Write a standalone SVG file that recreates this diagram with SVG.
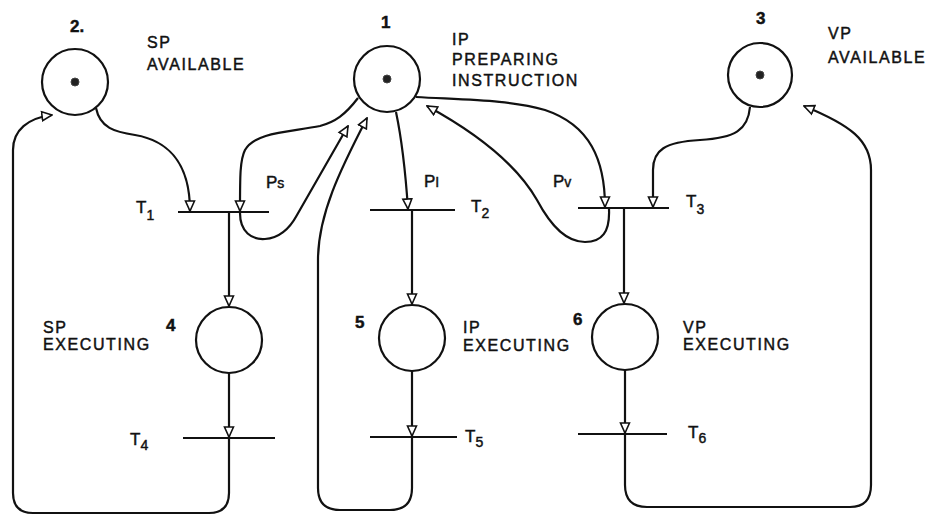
<svg xmlns="http://www.w3.org/2000/svg" width="949" height="515" viewBox="0 0 949 515">
<style>
.pl{fill:none;stroke:#111;stroke-width:2.2}
.tok{fill:#222;stroke:#444;stroke-width:1}
.bar{stroke:#111;stroke-width:2.2}
.arc{fill:none;stroke:#111;stroke-width:2.2;marker-end:url(#ah)}
text{font-family:"Liberation Sans","DejaVu Sans",sans-serif;fill:#111;stroke:#111;stroke-width:0.45}
.lab{font-size:16px;letter-spacing:1.6px}
.num{font-size:17px;font-weight:bold}
.tl{font-size:17px}
.sub{font-size:14px}
</style>
<defs>
<marker id="ah" viewBox="0 0 12 12" refX="11" refY="6" markerWidth="12" markerHeight="12" markerUnits="userSpaceOnUse" orient="auto">
<path d="M1,1.5 L11,6 L1,10.5 Z" fill="#fff" stroke="#111" stroke-width="1.6"/>
</marker>
</defs>
<rect width="949" height="515" fill="#fff"/>

<g id="place2">
<circle class="pl" cx="75" cy="82" r="33"/>
<circle class="tok" cx="75" cy="82" r="4"/>
<text class="num" x="70" y="32">2.</text>
<text class="lab" x="147" y="48">SP</text>
<text class="lab" x="147" y="70">AVAILABLE</text>
</g>
<g id="place1">
<circle class="pl" cx="387" cy="79" r="33"/>
<circle class="tok" cx="387" cy="79" r="4"/>
<text class="num" x="381" y="28">1</text>
<text class="lab" x="452" y="45">IP</text>
<text class="lab" x="452" y="65">PREPARING</text>
<text class="lab" x="452" y="86">INSTRUCTION</text>
</g>
<g id="place3">
<circle class="pl" cx="760" cy="75" r="32"/>
<circle class="tok" cx="760" cy="75" r="4"/>
<text class="num" x="756" y="24">3</text>
<text class="lab" x="828" y="39">VP</text>
<text class="lab" x="828" y="63">AVAILABLE</text>
</g>
<g id="place4">
<circle class="pl" cx="229" cy="340" r="33"/>
<text class="num" x="166" y="331">4</text>
<text class="lab" x="43" y="333">SP</text>
<text class="lab" x="43" y="350">EXECUTING</text>
</g>
<g id="place5">
<circle class="pl" cx="412" cy="338" r="33"/>
<text class="num" x="355" y="328">5</text>
<text class="lab" x="463" y="333">IP</text>
<text class="lab" x="463" y="351">EXECUTING</text>
</g>
<g id="place6">
<circle class="pl" cx="625" cy="337" r="33"/>
<text class="num" x="573" y="325">6</text>
<text class="lab" x="683" y="333">VP</text>
<text class="lab" x="683" y="350">EXECUTING</text>
</g>

<g id="T1">
<line class="bar" x1="178" y1="212" x2="269" y2="212"/>
<text class="tl" x="136" y="213">T<tspan class="sub" dy="7">1</tspan></text>
</g>
<g id="T2">
<line class="bar" x1="370" y1="210" x2="455" y2="210"/>
<text class="tl" x="471" y="212">T<tspan class="sub" dy="6">2</tspan></text>
</g>
<g id="T3">
<line class="bar" x1="578" y1="208" x2="669" y2="208"/>
<text class="tl" x="686" y="207">T<tspan class="sub" dy="7">3</tspan></text>
</g>
<g id="T4">
<line class="bar" x1="183" y1="438" x2="275" y2="438"/>
<text class="tl" x="130" y="445">T<tspan class="sub" dy="5">4</tspan></text>
</g>
<g id="T5">
<line class="bar" x1="370" y1="437" x2="457" y2="437"/>
<text class="tl" x="465" y="442">T<tspan class="sub" dy="5">5</tspan></text>
</g>
<g id="T6">
<line class="bar" x1="578" y1="434" x2="667" y2="434"/>
<text class="tl" x="688" y="438">T<tspan class="sub" dy="5">6</tspan></text>
</g>

<g id="connectors">
<path class="arc" d="M96,108 C100,128 115,132 135,135 C165,140 190,160 190,211"/>
<path class="arc" d="M358,98 C345,115 335,122 320,126 C290,132 255,132 245,150 C240,160 240,175 240,211"/>
<path class="arc" d="M240,213 C240,232 252,240 265,239 C280,238 290,228 297,215 L348,126"/>
<path class="arc" d="M229,212 L229,306"/>
<path class="arc" d="M229,373 L229,437"/>
<path class="arc" d="M229,438 L229,493 Q229,513 209,513 L33,513 Q13,513 13,493 L13,150 C13,130 28,118 52,115"/>
<path class="arc" d="M396,112 Q404,150 408,209"/>
<path class="arc" d="M412,210 L412,304"/>
<path class="arc" d="M412,371 L412,436"/>
<path class="arc" d="M412,437 L412,488 Q412,510 390,510 L340,510 Q318,510 318,488 L318,260 C318,215 340,170 367,118"/>
<path class="arc" d="M416,97 C470,100 510,100 545,110 C590,125 605,160 605,207"/>
<path class="arc" d="M609,209 C610,232 602,242 585,242 C567,242 552,228 537,200 C517,165 480,135 427,106"/>
<path class="arc" d="M750,107 C748,130 735,138 700,140 C665,142 653,150 653,170 L653,207"/>
<path class="arc" d="M624,208 L624,303"/>
<path class="arc" d="M625,370 L625,433"/>
<path class="arc" d="M625,434 L625,485 Q625,507 647,507 L850,507 Q871,507 871,485 L871,170 C871,140 850,125 804,106"/>
<text class="tl" x="266" y="188">P<tspan class="sub" font-size="13">s</tspan></text>
<text class="tl" x="424" y="187">P<tspan class="sub" font-size="13">I</tspan></text>
<text class="tl" x="553" y="187">P<tspan class="sub" font-size="14">v</tspan></text>
</g>
</svg>
